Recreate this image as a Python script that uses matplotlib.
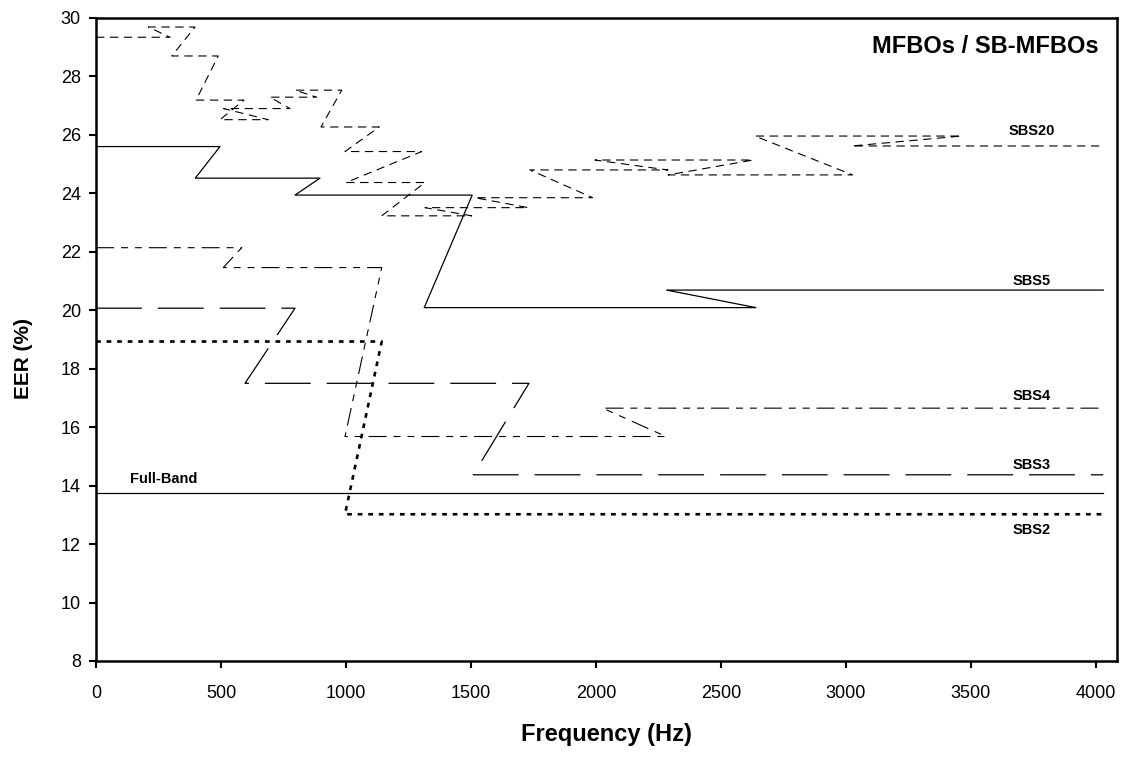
import matplotlib
matplotlib.use("Agg")
import matplotlib.pyplot as plt

plt.rcParams['font.family'] = ['Liberation Sans', 'DejaVu Sans']
plt.rcParams['lines.scale_dashes'] = False

# sub-band edges (Hz) and EER (%) for every system
full_band_eer = 13.75
f_end = 4030

sbs2_start = [0, 996]
sbs2_end = [1143, f_end]
sbs2_eer = [18.93, 13.02]

sbs3_start = [0, 596, 1509]
sbs3_end = [796, 1732, f_end]
sbs3_eer = [20.07, 17.50, 14.37]

sbs4_start = [0, 509, 996, 2027]
sbs4_end = [583, 1143, 2280, f_end]
sbs4_eer = [22.14, 21.46, 15.68, 16.65]

sbs5_start = [0, 397, 796, 1313, 2283]
sbs5_end = [496, 896, 1505, 2640, f_end]
sbs5_eer = [25.60, 24.52, 23.94, 20.09, 20.69]

sbs20_start = [0, 209, 303, 400, 496, 510, 696, 796, 900, 996,
               1000, 1143, 1316, 1516, 1736, 1996, 2289, 2636, 3023]
sbs20_end = [296, 396, 489, 592, 689, 776, 883, 983, 1133, 1303,
             1316, 1503, 1729, 1987, 2288, 2629, 3027, 3463, f_end]
sbs20_eer = [29.34, 29.69, 28.70, 27.19, 26.52, 26.90, 27.29, 27.53, 26.27, 25.43,
             24.37, 23.23, 23.51, 23.85, 24.80, 25.14, 24.63, 25.96, 25.62]


def steps(starts, ends, eers):
    # each sub-band is a flat segment, joined end -> next start
    xs, ys = [], []
    for s, e, v in zip(starts, ends, eers):
        xs += [s, e]
        ys += [v, v]
    return xs, ys


fig = plt.figure(figsize=(11.22, 7.58), dpi=100)
ax = fig.add_axes([0.0856, 0.128, 0.910, 0.8483])

ax.plot([0, f_end], [full_band_eer, full_band_eer], color='black', lw=0.9)

x, y = steps(sbs5_start, sbs5_end, sbs5_eer)
ax.plot(x, y, color='black', lw=0.9)

x, y = steps(sbs20_start, sbs20_end, sbs20_eer)
ax.plot(x, y, color='black', lw=0.8, dashes=(6, 4))

x, y = steps(sbs4_start, sbs4_end, sbs4_eer)
ax.plot(x, y, color='black', lw=0.8, dashes=(13, 5, 5, 5, 5, 5))

x, y = steps(sbs3_start, sbs3_end, sbs3_eer)
ax.plot(x, y, color='black', lw=0.9, dashes=(33, 11.5))

x, y = steps(sbs2_start, sbs2_end, sbs2_eer)
ax.plot(x, y, color='black', lw=1.9, dashes=(3.4, 4.2))

# labels
lab = dict(fontsize=10.5, fontweight='bold', ha='center', va='center')
ax.text(135, 13.98, 'Full-Band', fontsize=10.5, fontweight='bold', va='bottom')
ax.text(3745, 26.13, 'SBS20', **lab)
ax.text(3745, 21.0, 'SBS5', **lab)
ax.text(3745, 17.07, 'SBS4', **lab)
ax.text(3745, 14.71, 'SBS3', **lab)
ax.text(3745, 12.48, 'SBS2', **lab)
ax.text(0.982, 0.955, 'MFBOs / SB-MFBOs', transform=ax.transAxes,
        fontsize=17, fontweight='bold', ha='right', va='center')

ax.set_xlim(0, 4085)
ax.set_ylim(8, 30)
ax.set_xticks(range(0, 4001, 500))
ax.set_yticks(range(8, 31, 2))
ax.tick_params(direction='out', length=5, width=1.5, labelsize=13)
ax.tick_params(axis='x', pad=12)
ax.tick_params(axis='y', pad=6)
for sp in ax.spines.values():
    sp.set_linewidth(1.8)

ax.set_xlabel('Frequency (Hz)', fontsize=17, fontweight='bold')
ax.set_ylabel('EER (%)', fontsize=15, fontweight='bold')
ax.xaxis.set_label_coords(0.5, -0.096)
ax.yaxis.set_label_coords(-0.062, 0.47)

fig.savefig('out.png', dpi=100)
